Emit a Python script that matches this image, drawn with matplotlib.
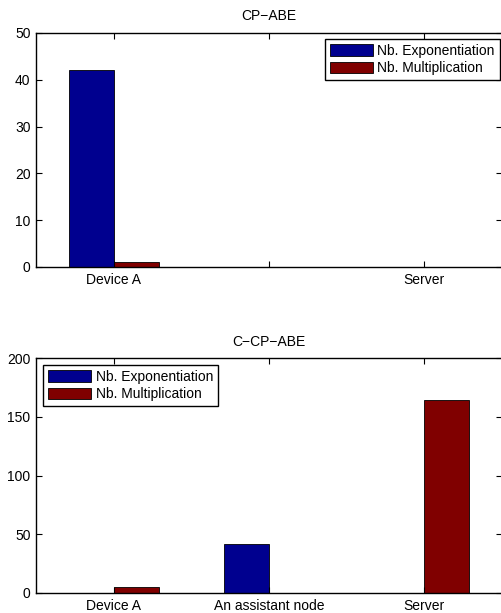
"""
Operation counts per entity for CP-ABE vs C-CP-ABE, MATLAB-style grouped bars.
"""
import matplotlib
matplotlib.use("Agg")
import matplotlib.pyplot as plt
import numpy as np

plt.rcParams["font.family"] = ["Liberation Sans", "DejaVu Sans"]
plt.rcParams["font.size"] = 10

series_names = ["Nb. Exponentiation", "Nb. Multiplication"]
series_colors = ["#00008f", "#800000"]

# top panel: CP-ABE
cpabe_labels = ["Device A", "", "Server"]
cpabe_exp = [42, 0, 0]
cpabe_mult = [1, 0, 0]

# bottom panel: C-CP-ABE
ccpabe_labels = ["Device A", "An assistant node", "Server"]
ccpabe_exp = [0, 42, 0]
ccpabe_mult = [5, 0, 164]


def draw_panel(ax, labels, exp_vals, mult_vals, title, ylim, ystep, legend_loc, anchor):
    x = np.arange(1, len(labels) + 1)
    width = 0.29
    for i, (vals, name, col) in enumerate(zip([exp_vals, mult_vals], series_names, series_colors)):
        offset = (i - 0.5) * width
        ax.bar(x + offset, vals, width, color=col, edgecolor="black",
               linewidth=0.6, label=name)
    ax.set_xlim(0.5, 3.5)
    ax.set_ylim(0, ylim)
    ax.set_yticks(np.arange(0, ylim + 1, ystep))
    ax.set_xticks(x)
    ax.set_xticklabels(labels)
    ax.tick_params(direction="in", length=4, width=0.8, top=True, right=True,
                   labelsize=10, pad=4)
    for sp in ax.spines.values():
        sp.set_linewidth(1.0)
    ax.set_title(title, fontsize=10, pad=9)
    leg = ax.legend(loc=legend_loc, bbox_to_anchor=anchor, borderaxespad=0,
                    fancybox=False, framealpha=1, edgecolor="black",
                    handlelength=3.1, handleheight=0.9, handletextpad=0.35,
                    labelspacing=0.25, borderpad=0.35, fontsize=10)
    leg.get_frame().set_linewidth(1.0)


fig = plt.figure(figsize=(5.02, 6.13), dpi=100)
ax1 = fig.add_axes([36 / 502, 346 / 613, 466 / 502, 234 / 613])
ax2 = fig.add_axes([36 / 502, 20 / 613, 466 / 502, 235 / 613])

draw_panel(ax1, cpabe_labels, cpabe_exp, cpabe_mult, "CP\u2212ABE", 50, 10,
           "upper right", (0.995, 0.975))
draw_panel(ax2, ccpabe_labels, ccpabe_exp, ccpabe_mult, "C\u2212CP\u2212ABE", 200, 50,
           "upper left", (0.015, 0.97))

fig.savefig("out.png", dpi=100)
